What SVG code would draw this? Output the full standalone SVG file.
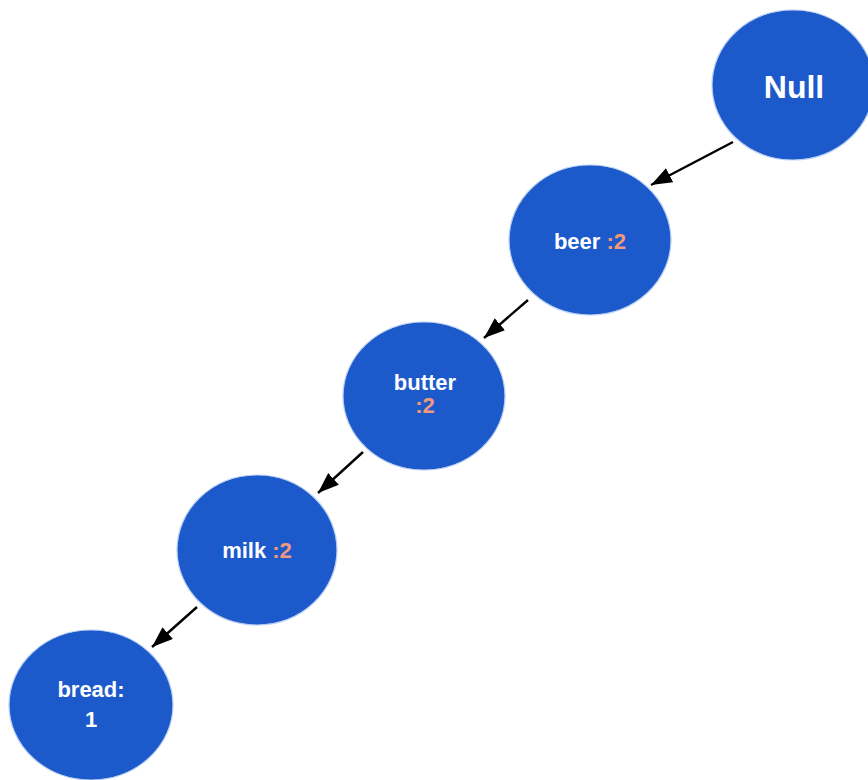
<svg xmlns="http://www.w3.org/2000/svg" width="868" height="780" viewBox="0 0 868 780">
  <style>
    .node { fill: #1c5acc; stroke: #b9cff3; stroke-width: 1.2; }
    .label { font-family: "Liberation Sans", Arial, sans-serif; font-weight: bold; fill: #ffffff; text-anchor: middle; }
    .count { fill: #f2997c; }
    .edge { stroke: #000000; stroke-width: 2.4; fill: none; marker-end: url(#arrowhead); }
  </style>
  <defs>
    <marker id="arrowhead" viewBox="0 0 20 15" refX="20" refY="7.5" markerWidth="21" markerHeight="16" markerUnits="userSpaceOnUse" orient="auto">
      <path d="M0,0 L20,7.5 L0,15 z" fill="#000000"/>
    </marker>
  </defs>
  <rect width="868" height="780" fill="#ffffff"/>

  <g id="connectors">
    <line class="edge" x1="733" y1="142" x2="651" y2="185"/>
    <line class="edge" x1="528" y1="300" x2="484" y2="338"/>
    <line class="edge" x1="363" y1="452" x2="318" y2="493"/>
    <line class="edge" x1="197" y1="607" x2="152" y2="647"/>
  </g>

  <g id="node-null">
    <ellipse class="node" cx="793" cy="85" rx="81" ry="75"/>
    <text class="label" x="794" y="98" font-size="32">Null</text>
  </g>

  <g id="node-beer">
    <ellipse class="node" cx="590" cy="240" rx="81" ry="75"/>
    <text class="label" x="590" y="249" font-size="22">beer <tspan class="count">:2</tspan></text>
  </g>

  <g id="node-butter">
    <ellipse class="node" cx="424" cy="396" rx="81" ry="74"/>
    <text class="label" x="425" y="390" font-size="22">butter</text>
    <text class="label count" x="425" y="413" font-size="22">:2</text>
  </g>

  <g id="node-milk">
    <ellipse class="node" cx="257" cy="550" rx="80" ry="75"/>
    <text class="label" x="257" y="558" font-size="22">milk <tspan class="count">:2</tspan></text>
  </g>

  <g id="node-bread">
    <ellipse class="node" cx="91" cy="705" rx="82" ry="75"/>
    <text class="label" x="91" y="697" font-size="22">bread:</text>
    <text class="label" x="91" y="727" font-size="22">1</text>
  </g>
</svg>
